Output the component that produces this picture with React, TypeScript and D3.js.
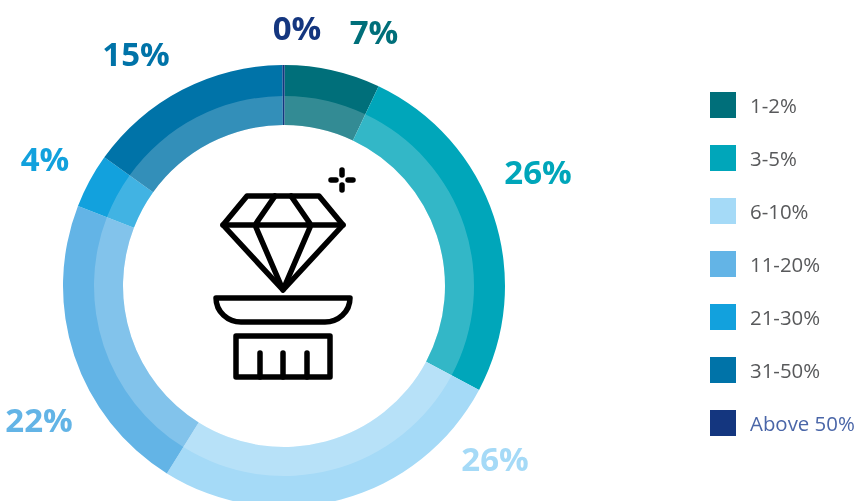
import React from "react";
import * as d3 from "d3";

const categories = ["1-2%", "3-5%", "6-10%", "11-20%", "21-30%", "31-50%", "Above 50%"];
const shares = [7, 25.75, 26.1, 22, 4, 15, 0.15];
const shownLabels = ["7%", "26%", "26%", "22%", "4%", "15%", "0%"];
const colors = ["#006f7a", "#00a6ba", "#a5daf7", "#63b4e6", "#12a1dd", "#0073a8", "#14367f"];
const labelColors = ["#006f7a", "#00a6ba", "#a5daf7", "#63b4e6", "#12a1dd", "#0073a8", "#14367f"];
const labelAnchors: [number, number][] = [[374, 33], [538, 173], [495, 459.5], [39, 420.5], [45, 160], [136, 54.5], [297, 29]];
const legendTextColors = ["#58595b", "#58595b", "#58595b", "#58595b", "#58595b", "#58595b", "#4a66a8"];

const W = 854, H = 501;
const cx = 284, cy = 286, rOuter = 221, rMid = 190, rInner = 161;
const font = "'Open Sans', sans-serif";
const startTurn = 0.0025;

export default function App() {
  const pie = d3.pie<number>().sort(null).startAngle(startTurn).endAngle(Math.PI * 2 + startTurn)(shares);
  const outer = d3.arc<d3.PieArcDatum<number>>().innerRadius(rInner).outerRadius(rOuter);
  const inner = d3.arc<d3.PieArcDatum<number>>().innerRadius(rInner).outerRadius(rMid);
  const legendY = d3.scalePoint<string>().domain(categories).range([105, 423]);
  return (
    <svg width={W} height={H} style={{ position: "fixed", left: 0, top: 0, display: "block" }}>
      <g transform={`translate(${cx},${cy})`}>
        {pie.map((d, i) => <path key={i} d={outer(d)!} fill={colors[i]} />)}
        {pie.map((d, i) => <path key={i} d={inner(d)!} fill="#fff" fillOpacity={i === 6 ? 0 : 0.2} />)}
      </g>
      {shownLabels.map((t, i) => (
        <text key={i} x={labelAnchors[i][0]} y={labelAnchors[i][1] + 11} textAnchor="middle"
          fontFamily={font} fontWeight={700} fontSize={33} fill={labelColors[i]}>{t}</text>
      ))}
      {categories.map((c, i) => (
        <g key={c} transform={`translate(710,${legendY(c)! - 13})`}>
          <rect width={26} height={26} fill={colors[i]} />
          <text x={40} y={21} fontFamily={font} fontWeight={400} fontSize={20.4} fill={legendTextColors[i]}>{c}</text>
        </g>
      ))}
      <g fill="none" stroke="#000" strokeWidth={5.5} strokeLinejoin="round" strokeLinecap="round">
        <path d="M247,196 H319 L343,225 L283,290 L223,225 Z" />
        <path d="M223,225 H343 M275,196 L255,225 L283,290 L311,225 L291,196" />
        <path d="M216,298 H350 C350,312 338,322 325,322 H241 C228,322 216,312 216,298 Z" />
        <path d="M236,336 H330 V377 H236 Z" />
        <path d="M260,353 V377 M283,353 V377 M307,353 V377" />
        <path d="M342,170 V175 M342,185 V190 M331,180 H336 M348,180 H353" />
      </g>
    </svg>
  );
}
